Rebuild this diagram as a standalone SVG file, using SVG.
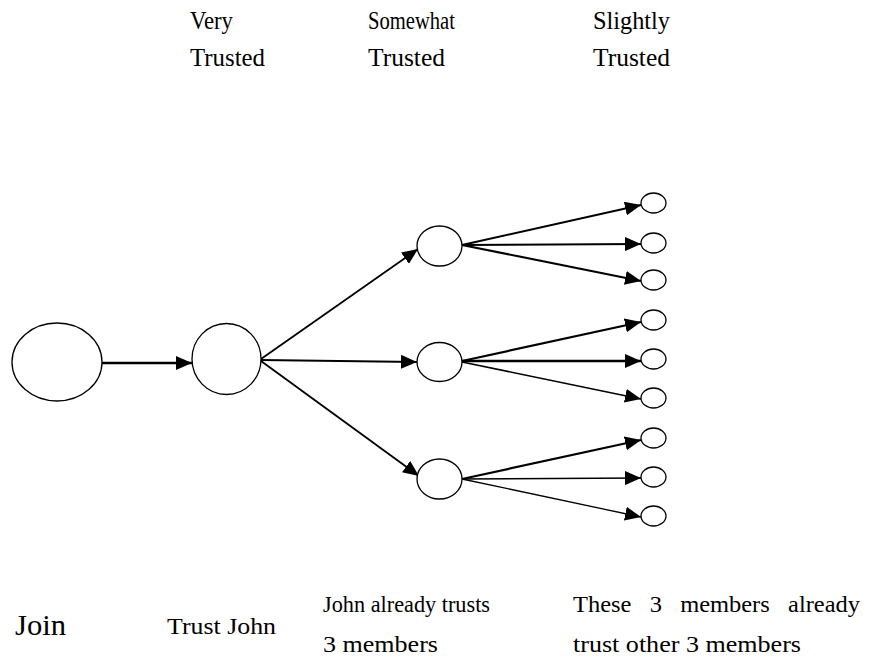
<svg xmlns="http://www.w3.org/2000/svg" width="872" height="657" viewBox="0 0 872 657">
  <style>
    .node { fill: #ffffff; stroke: #000000; stroke-width: 1.3; }
    .edge { fill: none; stroke: #000000; marker-end: url(#head); }
    .lbl { font-family: "Liberation Serif", "Times New Roman", serif; fill: #000000; }
  </style>
  <defs>
    <marker id="head" markerUnits="userSpaceOnUse" markerWidth="16" markerHeight="14" refX="16" refY="7" orient="auto">
      <path d="M0,0 L16,7 L0,14 Z" fill="#000000"/>
    </marker>
  </defs>
  <rect width="872" height="657" fill="#ffffff"/>

  <!-- column headings -->
  <g id="headings" class="lbl" font-size="25">
    <text x="190" y="29" textLength="43" lengthAdjust="spacingAndGlyphs">Very</text>
    <text x="190" y="66" textLength="75" lengthAdjust="spacingAndGlyphs">Trusted</text>
    <text x="368" y="29" textLength="87" lengthAdjust="spacingAndGlyphs">Somewhat</text>
    <text x="368" y="66" textLength="77" lengthAdjust="spacingAndGlyphs">Trusted</text>
    <text x="593" y="29" textLength="77" lengthAdjust="spacingAndGlyphs">Slightly</text>
    <text x="593" y="66" textLength="77" lengthAdjust="spacingAndGlyphs">Trusted</text>
  </g>

  <!-- connectors -->
  <g id="connectors">
    <line class="edge" x1="102" y1="363" x2="192" y2="363" stroke-width="2.5"/>
    <line class="edge" x1="261" y1="359" x2="418" y2="249" stroke-width="1.8"/>
    <line class="edge" x1="261" y1="360" x2="417" y2="362" stroke-width="1.8"/>
    <line class="edge" x1="261" y1="361" x2="419" y2="476" stroke-width="1.8"/>

    <line class="edge" x1="462" y1="245" x2="641" y2="205" stroke-width="2"/>
    <line class="edge" x1="462" y1="245" x2="641" y2="244" stroke-width="2.2"/>
    <line class="edge" x1="462" y1="245" x2="641" y2="281" stroke-width="2.2"/>

    <line class="edge" x1="462" y1="361" x2="641" y2="322" stroke-width="2.2"/>
    <line class="edge" x1="462" y1="361" x2="641" y2="361" stroke-width="2.5"/>
    <line class="edge" x1="462" y1="362" x2="641" y2="399" stroke-width="1.6"/>

    <line class="edge" x1="462" y1="479" x2="641" y2="440" stroke-width="2.2"/>
    <line class="edge" x1="462" y1="479" x2="641" y2="478" stroke-width="1.3"/>
    <line class="edge" x1="462" y1="479" x2="641" y2="517" stroke-width="1.3"/>
  </g>

  <!-- nodes -->
  <g id="n-join"><ellipse class="node" cx="57" cy="362" rx="45" ry="39"/></g>
  <g id="n-john"><ellipse class="node" cx="226.5" cy="359" rx="34.5" ry="35.5"/></g>

  <g id="n-m1"><ellipse class="node" cx="439.5" cy="246" rx="22.5" ry="20"/></g>
  <g id="n-m2"><ellipse class="node" cx="439.5" cy="362" rx="22.5" ry="19.5"/></g>
  <g id="n-m3"><ellipse class="node" cx="439.5" cy="479" rx="22.5" ry="20"/></g>

  <g id="n-s1"><ellipse class="node" cx="653.5" cy="203" rx="12.5" ry="10"/></g>
  <g id="n-s2"><ellipse class="node" cx="653.5" cy="243" rx="12.5" ry="10"/></g>
  <g id="n-s3"><ellipse class="node" cx="653.5" cy="280" rx="12.5" ry="10"/></g>
  <g id="n-s4"><ellipse class="node" cx="653.5" cy="320" rx="12.5" ry="10"/></g>
  <g id="n-s5"><ellipse class="node" cx="653.5" cy="359" rx="12.5" ry="10"/></g>
  <g id="n-s6"><ellipse class="node" cx="653.5" cy="398" rx="12.5" ry="10"/></g>
  <g id="n-s7"><ellipse class="node" cx="653.5" cy="438" rx="12.5" ry="10"/></g>
  <g id="n-s8"><ellipse class="node" cx="653.5" cy="477" rx="12.5" ry="10"/></g>
  <g id="n-s9"><ellipse class="node" cx="653.5" cy="516" rx="12.5" ry="10"/></g>

  <!-- step captions -->
  <g id="captions" class="lbl">
    <text x="15" y="635" font-size="30" textLength="51" lengthAdjust="spacingAndGlyphs">Join</text>
    <text x="167" y="634" font-size="23" textLength="109" lengthAdjust="spacingAndGlyphs">Trust John</text>
    <text x="323" y="612" font-size="24" textLength="167" lengthAdjust="spacingAndGlyphs">John already trusts</text>
    <text x="323" y="652" font-size="24" textLength="115" lengthAdjust="spacingAndGlyphs">3 members</text>
    <text x="573" y="612" font-size="24" word-spacing="12" textLength="287" lengthAdjust="spacingAndGlyphs">These 3 members already</text>
    <text x="573" y="652" font-size="24" textLength="228" lengthAdjust="spacingAndGlyphs">trust other 3 members</text>
  </g>
</svg>
